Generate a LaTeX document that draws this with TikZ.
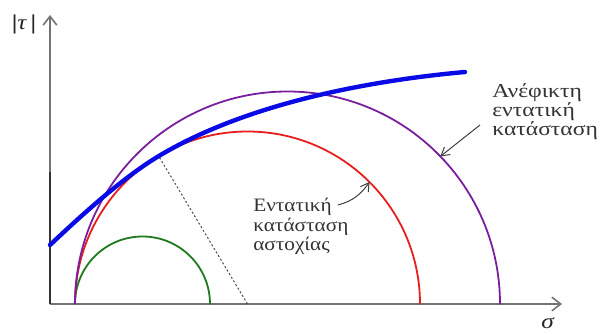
\documentclass[tikz,border=0pt]{standalone}
\usepackage{fontspec}
\setmainfont{Liberation Serif}
\newfontfamily\labelfont{Liberation Serif}[FakeStretch=1.2]
\newfontfamily\smalllabelfont{Liberation Serif}[FakeStretch=1.12]
\usetikzlibrary{arrows.meta,calc}
\definecolor{envblue}{HTML}{0A0AE6}
\definecolor{mohrgreen}{HTML}{1E7A1E}
\definecolor{mohrred}{HTML}{E61E1E}
\definecolor{mohrpurple}{HTML}{7A1EA0}

\begin{document}
\begin{tikzpicture}[
  x=0.25mm, y=0.25mm,
  axis/.style={-{Straight Barb[length=2.2mm,width=3.4mm]}, line width=0.4mm, draw=black!55},
  mohr/.style={line width=0.45mm},
  lbl/.style={-{Straight Barb[length=2mm,width=2.4mm]}, draw=black!75, line width=0.25mm},
  txt/.style={align=left, inner sep=0pt, text=black!80, font=\labelfont\fontsize{14}{13.6}\selectfont},
  sym/.style={text=black!85, font=\labelfont\fontsize{15}{16}\selectfont},
]
  \useasboundingbox (-50,-29) rectangle (553,304);

  \coordinate (O) at (0,0);
  \coordinate (xend) at (512,0);
  \coordinate (yend) at (0,289);
  \coordinate (ctrG) at (92.5,0);
  \coordinate (ctrR) at (197.5,0);
  \coordinate (ctrP) at (237.5,0);
  \coordinate (touch) at ($(ctrR)+(121:172.5)$);

  % axes
  \draw[axis] (O) -- (xend);
  \draw[axis] (O) -- (yend);
  \draw[line width=0.45mm, black!80] (O) -- (0,132);
  \node[sym] (tau) at (-26,280) {\textbf{|}\textit{τ}\,\textbf{|}};
  \node[sym] (sigma) at (498,-19) {\textit{σ}};

  % Mohr circles
  \draw[mohr, mohrgreen] (25,0) arc[start angle=180, end angle=0, radius=67.5];
  \draw[mohr, mohrred] (25,0) arc[start angle=180, end angle=0, radius=172.5];
  \draw[mohr, mohrpurple] (25,0) arc[start angle=180, end angle=0, radius=212.5];
  \draw[dash pattern=on 1.5pt off 1.5pt, black!70, line width=0.25mm] (ctrR) -- (touch);

  % failure envelope
  \draw[line width=1.1mm, envblue, line cap=round] (0,59)
    .. controls (36,93) and ($(touch)+(211:40)$) .. (touch)
    .. controls ($(touch)+(31:100)$) and (315,223) .. (415,232);

  % labels
  \node[txt, anchor=north west, font=\smalllabelfont\fontsize{13.5}{13.9}\selectfont] (failure) at (203,106) {Εντατική\\κατάσταση\\αστοχίας};
  \node[txt, anchor=north west] (unreach) at (442,221) {Ανέφικτη\\εντατική\\κατάσταση};
  \coordinate (tailR) at (288,99);
  \coordinate (tailP) at (430,179);
  \draw[lbl] (tailR) to[out=15, in=235] ($(ctrR)+(45:172.5)$);
  \draw[lbl] (tailP) -- ($(ctrP)+(44:212.5)$);
\end{tikzpicture}
\end{document}
